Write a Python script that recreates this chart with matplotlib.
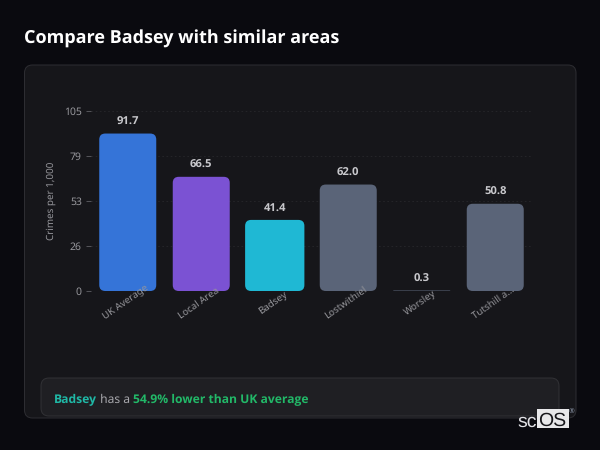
import matplotlib
matplotlib.use('Agg')
import matplotlib.pyplot as plt
from matplotlib.patches import FancyBboxPatch
from matplotlib.transforms import ScaledTranslation

plt.rcParams['font.family'] = ['Noto Sans', 'DejaVu Sans']
plt.rcParams['text.hinting'] = 'no_hinting'

# values
areas = ['UK Average', 'Local Area', 'Badsey', 'Lostwithiel', 'Worsley', 'Tutshill a...']
crimes = [91.7, 66.5, 41.4, 62.0, 0.3, 50.8]
bar_colors = ['#3574d8', '#7b52d3', '#1fb8d4', '#5a6478', '#5a6478', '#5a6478']
y_ticks = [0, 26.25, 52.5, 78.75, 105]
y_tick_labels = ['0', '26', '53', '79', '105']

W, H = 600, 450
BAR_W = 57 / 73.5

fig = plt.figure(figsize=(6, 4.5), dpi=100, facecolor='#0a0a0f')

# page layer in pixel coordinates, y pointing down
bg = fig.add_axes([0, 0, 1, 1], zorder=0)
bg.set_xlim(0, W)
bg.set_ylim(H, 0)
bg.axis('off')


def round_box(x0, y0, x1, y1, r, face, edge):
    bg.add_patch(FancyBboxPatch((x0, y0), x1 - x0, y1 - y0,
                                boxstyle=f'round,pad=0,rounding_size={r}',
                                fc=face, ec=edge, lw=0.7))


round_box(24.5, 65, 576, 418, 8, '#16161a', '#2e2e33')
round_box(41, 378, 559, 416, 8, '#1f1f23', '#323236')

bg.text(24, 38.5, 'Compare Badsey with similar areas', color='white', fontsize=13,
        family='Open Sans', fontweight='bold', va='center')

# chart layer
left, right, top, bottom = 91, 532, 110.7, 291
ax = fig.add_axes([left / W, 1 - bottom / H, (right - left) / W, (bottom - top) / H],
                  zorder=1)
ax.patch.set_alpha(0)
ax.set_xlim(-0.5, 5.5)
ax.set_ylim(0, 105)

px_x = (right - left) / 6
px_y = (bottom - top) / 105
for i, (v, c) in enumerate(zip(crimes, bar_colors)):
    r = min(6 / px_x, v * px_y / 2 / px_x)
    # the local area bar sits slightly enlarged
    w = BAR_W * 1.04 if areas[i] == 'Badsey' else BAR_W
    ax.add_patch(FancyBboxPatch((i - w / 2, 0), w, v,
                                boxstyle=f'round,pad=0,rounding_size={r}',
                                mutation_aspect=px_x / px_y,
                                fc=c, ec='none', clip_on=False, zorder=1.2))
    ax.text(i, v + 3.4, f'{v:.1f}', color='#c8c8cc', fontsize=8.1, family='Open Sans',
            fontweight='bold', ha='center', va='bottom')

ax.set_yticks(y_ticks)
ax.set_yticklabels(y_tick_labels)
ax.set_xticks(range(len(areas)))
ax.set_xticklabels(areas, rotation=35, ha='center', va='center', rotation_mode='anchor')
ax.tick_params(axis='y', length=3.6, width=0.7, color='#55555a', labelcolor='#97979c',
               labelsize=7.5, pad=3)
ax.tick_params(axis='x', length=0, labelcolor='#97979c', labelsize=7, pad=8.6)
shift = ScaledTranslation(-2 / 100, 0, fig.dpi_scale_trans)
for lab in ax.get_xticklabels():
    lab.set_transform(lab.get_transform() + shift)
# faint grid under the bars, tick labels stay on top of them
ax.hlines(y_ticks, -0.5, 5.5, color='#27272b', lw=0.6, ls=(0, (2, 3)), zorder=1)
for s in ax.spines.values():
    s.set_visible(False)
ax.set_ylabel('Crimes per 1,000', color='#97979c', fontsize=7.1, labelpad=6)

# insight line, three colours run together
fig.canvas.draw()
renderer = fig.canvas.get_renderer()
x = 54
inv = bg.transData.inverted()
for txt, col, fam, weight in [('Badsey', '#1fb8a6', 'Open Sans', 'bold'),
                              (' has a ', '#a8a8ad', 'Noto Sans', 'normal'),
                              ('54.9% lower than UK average', '#22b868', 'Open Sans', 'bold')]:
    t = bg.text(x, 399.5, txt.replace(' ', '\u00a0'), color=col, fontsize=8.7,
                family=fam, fontweight=weight, va='center')
    x = inv.transform(t.get_window_extent(renderer).get_points())[1][0]

# logo
bg.add_patch(plt.Rectangle((537, 409), 32, 19, fc='#e8e8ea', ec='none', zorder=5))
bg.text(517, 421.5, 'sc', color='#e0e0e4', fontsize=14, family='Liberation Sans',
        va='center', zorder=6)
bg.text(538, 420.5, 'OS', color='#17171b', fontsize=14, family='Liberation Sans',
        va='center', zorder=6)
bg.text(572, 411, '®', color='#8a94a6', fontsize=5, ha='center', va='center', zorder=6)

fig.savefig('out.png', dpi=100, facecolor=fig.get_facecolor())
